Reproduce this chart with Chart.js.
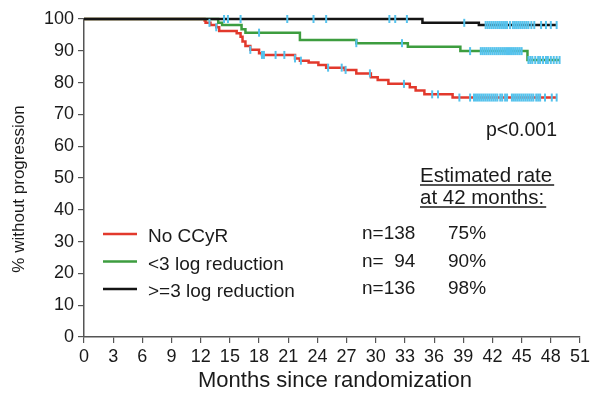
<!DOCTYPE html>
<html>
<head>
<meta charset="utf-8">
<script src="https://cdn.jsdelivr.net/npm/chart.js@4/dist/chart.umd.min.js"></script>
<style>
  html, body { margin: 0; padding: 0; background: #fff; }
  canvas { display: block; }
</style>
</head>
<body>
<canvas id="km" width="593" height="396"></canvas>
<script>
// Kaplan-Meier steps (months, % without progression)
const redTimes = [0, 12.4, 12.5, 13.0, 13.6, 13.9, 15.7, 16.1, 16.3, 16.6, 17.1, 18.0, 18.3, 21.7, 22.2, 23.1, 24.1, 24.9, 26.8, 28.0, 29.5, 30.2, 31.3, 33.5, 34.1, 35.0, 37.9, 48.6];
const redSurv = [100, 99.5, 98.8, 98.1, 97.4, 96.2, 95.5, 94.4, 92.9, 91.5, 90.3, 89.2, 88.7, 87.6, 86.9, 86.3, 85.5, 84.7, 84.0, 82.9, 81.7, 80.8, 79.6, 78.5, 77.5, 76.3, 75.3, 75.3];

const greenTimes = [0, 13.8, 14.2, 16.2, 16.6, 22.2, 28.0, 33.3, 38.7, 45.6, 48.9];
const greenSurv = [100, 98.8, 98.1, 96.8, 95.7, 93.4, 92.4, 91.3, 89.9, 87.1, 87.1];

const blackTimes = [0, 34.8, 40.6, 48.6];
const blackSurv = [100, 98.8, 98.1, 98.1];

// censored observations (months)
const redCensor = [12.9, 13.6, 17.1, 18.3, 18.5, 19.7, 20.6, 21.7, 22.3, 25.1, 26.5, 26.9, 29.4, 32.9, 35.8, 36.4, 38.6, 39.7,
  40.1, 40.3, 40.5, 40.7, 40.9, 41.1, 41.3, 41.5, 41.7, 41.9, 42.1, 42.3, 42.5, 42.8, 43.0, 43.3, 43.5,
  44.0, 44.2, 44.4, 44.6, 44.8, 45.0, 45.2, 45.4, 45.6, 45.8, 46.0, 46.2, 46.5, 46.7, 46.9, 47.4, 48.1, 48.6];
const greenCensor = [18.0, 28.0, 32.7, 39.7,
  40.8, 41.0, 41.2, 41.4, 41.6, 41.8, 42.0, 42.2, 42.4, 42.6, 42.8, 43.0, 43.2, 43.4, 43.6, 43.8, 44.0, 44.2, 44.4, 44.6, 44.8, 45.0,
  45.7, 45.9, 46.1, 46.4, 46.7, 46.9, 47.2, 47.5, 47.7, 48.0, 48.3, 48.6, 48.9];
const blackCensor = [14.4, 14.8, 16.1, 20.9, 23.6, 24.9, 31.4, 32.0, 33.2, 39.1,
  41.3, 41.5, 41.7, 41.9, 42.1, 42.3, 42.5, 42.7, 42.9, 43.1, 43.3, 43.5, 43.8,
  44.1, 44.3, 44.5, 44.7, 44.9, 45.1, 45.3, 45.5, 45.7, 46.0, 46.3, 47.0, 47.5, 48.0, 48.6];

const groupNames = ["No CCyR", "<3 log reduction", ">=3 log reduction"];
const groupN = ["n=138", "n=  94", "n=136"];
const groupRate = ["75%", "90%", "98%"];

const RED = "#e2392c", GREEN = "#3d9d3f", BLACK = "#141414", BLUE = "#55c2ec";
const FONT = "'Liberation Sans', Arial, sans-serif";

function steps(times, surv) {
  return times.map((t, i) => ({ x: t, y: surv[i] }));
}
function survAt(times, surv, t) {
  let v = surv[0];
  for (let i = 0; i < times.length; i++) if (times[i] <= t) v = surv[i];
  return v;
}
function marks(censor, times, surv) {
  return censor.map(t => ({ x: t, y: survAt(times, surv, t) }));
}

function lineSet(data, color, order) {
  return { data, borderColor: color, borderWidth: 2.5, stepped: true, pointRadius: 0, fill: false, clip: 4, order };
}
function censorSet(data) {
  return { data, showLine: false, pointStyle: "line", rotation: 90, pointRadius: 4, pointHoverRadius: 4,
    borderColor: BLUE, borderWidth: 2, backgroundColor: BLUE, clip: 6, order: 0 };
}

const textPlugin = {
  id: "kmText",
  afterDraw(chart) {
    const ctx = chart.ctx;
    ctx.save();
    ctx.fillStyle = "#1a1a1a";
    ctx.strokeStyle = "#1a1a1a";

    // axis titles
    ctx.font = "22px " + FONT;
    ctx.textAlign = "center";
    ctx.textBaseline = "middle";
    ctx.fillText("Months since randomization", 335, 381);
    ctx.save();
    ctx.translate(19, 189);
    ctx.rotate(-Math.PI / 2);
    ctx.font = "17px " + FONT;
    ctx.fillText("% without progression", 0, 0);
    ctx.restore();

    ctx.textBaseline = "alphabetic";
    ctx.font = "19.5px " + FONT;
    ctx.textAlign = "right";
    ctx.fillText("p<0.001", 557, 136);

    ctx.textAlign = "left";
    ctx.font = "20.5px " + FONT;
    ["Estimated rate", "at 42 months:"].forEach((s, i) => {
      const y = 181.5 + i * 22;
      ctx.fillText(s, 420, y);
      const w = ctx.measureText(s).width;
      ctx.lineWidth = 1.3;
      ctx.beginPath();
      ctx.moveTo(420, y + 3.5);
      ctx.lineTo(420 + w + 2, y + 3.5);
      ctx.stroke();
    });

    // legend and table
    ctx.font = "19px " + FONT;
    const colors = [RED, GREEN, BLACK];
    groupNames.forEach((name, i) => {
      const ly = 234 + i * 27.5;
      ctx.strokeStyle = colors[i];
      ctx.lineWidth = 2.5;
      ctx.beginPath();
      ctx.moveTo(103, ly);
      ctx.lineTo(137, ly);
      ctx.stroke();
      ctx.fillText(name, 148, ly + 8);
      ctx.fillText(groupN[i], 362, ly + 5);
      ctx.fillText(groupRate[i], 448, ly + 5);
    });
    ctx.restore();
  }
};

new Chart(document.getElementById("km"), {
  type: "line",
  data: {
    datasets: [
      censorSet(marks(blackCensor, blackTimes, blackSurv)),
      censorSet(marks(greenCensor, greenTimes, greenSurv)),
      censorSet(marks(redCensor, redTimes, redSurv)),
      lineSet(steps(blackTimes, blackSurv), BLACK, 1),
      lineSet(steps(greenTimes, greenSurv), GREEN, 2),
      lineSet(steps(redTimes, redSurv), RED, 3)
    ]
  },
  options: {
    responsive: false,
    animation: false,
    devicePixelRatio: 1,
    layout: { padding: { top: 19, right: 9.5, left: 0, bottom: 0 } },
    plugins: { legend: { display: false }, tooltip: { enabled: false } },
    scales: {
      x: {
        type: "linear",
        min: 0,
        max: 51,
        afterFit: s => { s.height = 59; },
        ticks: { stepSize: 3, autoSkip: false, maxRotation: 0, padding: 3, color: "#1a1a1a", font: { family: FONT, size: 18 } },
        grid: { drawOnChartArea: false, drawTicks: true, tickLength: 6, color: "#555", lineWidth: 1.2 },
        border: { color: "#555", width: 1.5 }
      },
      y: {
        min: 0,
        max: 100,
        afterFit: s => { s.width = 84; },
        ticks: { stepSize: 10, padding: 4, color: "#1a1a1a", font: { family: FONT, size: 18 } },
        grid: { drawOnChartArea: false, drawTicks: true, tickLength: 6, color: "#555", lineWidth: 1.2 },
        border: { color: "#555", width: 1.5 }
      }
    }
  },
  plugins: [textPlugin]
});
</script>
</body>
</html>
